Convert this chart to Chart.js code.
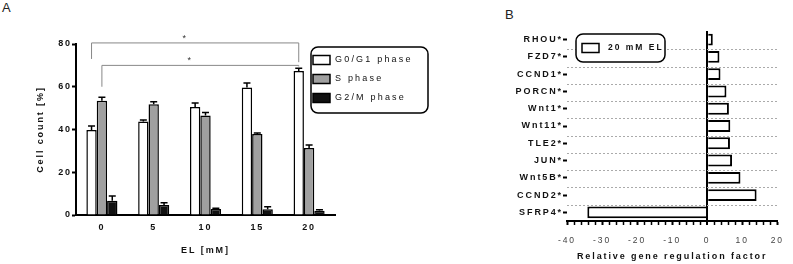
<!DOCTYPE html>
<html>
<head>
<meta charset="utf-8">
<script src="https://cdn.jsdelivr.net/npm/chart.js@4"></script>
<style>
  body { margin: 0; background: #fff; }
  #wrap { position: relative; width: 793px; height: 264px; font-family: "Liberation Sans", Arial, sans-serif; }
  canvas { position: absolute; top: 0; }
  #chartA { left: 0; }
  #chartB { left: 480px; }
  .panel { position: absolute; font-size: 13px; color: #222; }
</style>
</head>
<body>
<div id="wrap">
  <div class="panel" style="left:2px;top:0px">A</div>
  <div class="panel" style="left:505px;top:7px">B</div>
  <canvas id="chartA" width="440" height="264" style="width:440px;height:264px"></canvas>
  <canvas id="chartB" width="313" height="264" style="width:313px;height:264px"></canvas>
</div>
<script>
// panel A - cell cycle distribution
const doses = ['0', '5', '10', '15', '20'];
const phaseNames = ['G0/G1 phase', 'S phase', 'G2/M phase'];
const g0g1 = [39.8, 43.7, 50.5, 59.7, 67.4];
const g0g1Err = [1.8, 0.7, 1.9, 2.0, 1.2];
const sPhase = [53.5, 51.8, 46.5, 37.9, 31.3];
const sPhaseErr = [1.6, 1.2, 1.4, 0.5, 1.5];
const g2m = [6.7, 4.7, 2.8, 2.7, 2.0];
const g2mErr = [2.2, 1.0, 0.3, 1.2, 0.4];
const cellTicks = [0, 20, 40, 60, 80];

// significance brackets: [category, dataset] ends, height of bar and of both drops
const brackets = [
  { from: [0, 0], to: [4, 0], top: 80.5, ends: [73, 71.5] },
  { from: [0, 1], to: [4, 0], top: 70, ends: [60, 69.5] }
];

// panel B - gene regulation at 20 mM EL
const genes = ['RHOU*', 'FZD7*', 'CCND1*', 'PORCN*', 'Wnt1*', 'Wnt11*', 'TLE2*', 'JUN*', 'Wnt5B*', 'CCND2*', 'SFRP4*'];
const regulation = [1.6, 3.5, 3.8, 5.5, 6.2, 6.6, 6.5, 7.1, 9.5, 14.1, -34.2];
const regTicks = [-40, -30, -20, -10, 0, 10, 20];

const FONT = '"Liberation Sans", Arial, sans-serif';

// chart.js has no letter spacing option, so set it on the context
const spacing = {
  id: 'spacing',
  beforeDraw(chart, args, opts) { chart.ctx.letterSpacing = opts.value; }
};

const errorBars = {
  id: 'errorBars',
  afterDatasetsDraw(chart) {
    const ctx = chart.ctx;
    const y = chart.scales.y;
    ctx.save();
    ctx.strokeStyle = '#000';
    ctx.lineWidth = 1.5;
    chart.data.datasets.forEach((ds, i) => {
      chart.getDatasetMeta(i).data.forEach((bar, j) => {
        const top = y.getPixelForValue(ds.data[j] + ds.errors[j]);
        ctx.beginPath();
        ctx.moveTo(bar.x, bar.y);
        ctx.lineTo(bar.x, top);
        ctx.moveTo(bar.x - 3.5, top);
        ctx.lineTo(bar.x + 3.5, top);
        ctx.stroke();
      });
    });
    ctx.restore();
  }
};

const sigLines = {
  id: 'sigLines',
  afterDatasetsDraw(chart) {
    const ctx = chart.ctx;
    const y = chart.scales.y;
    ctx.save();
    ctx.strokeStyle = '#888';
    ctx.lineWidth = 1;
    ctx.fillStyle = '#333';
    ctx.font = '9px ' + FONT;
    ctx.textAlign = 'center';
    brackets.forEach(b => {
      const x1 = chart.getDatasetMeta(b.from[1]).data[b.from[0]].x;
      const x2 = chart.getDatasetMeta(b.to[1]).data[b.to[0]].x;
      const yt = y.getPixelForValue(b.top);
      ctx.beginPath();
      ctx.moveTo(x1, y.getPixelForValue(b.ends[0]));
      ctx.lineTo(x1, yt);
      ctx.lineTo(x2, yt);
      ctx.lineTo(x2, y.getPixelForValue(b.ends[1]));
      ctx.stroke();
      ctx.fillText('*', (x1 + x2) / 2 - 10, yt - 2);
    });
    ctx.restore();
  }
};

const boxLegend = {
  id: 'boxLegend',
  afterDraw(chart, args, o) {
    const ctx = chart.ctx;
    ctx.save();
    ctx.fillStyle = '#fff';
    ctx.strokeStyle = '#000';
    ctx.lineWidth = 1.5;
    ctx.beginPath();
    ctx.roundRect(o.x, o.y, o.w, o.h, 7);
    ctx.fill();
    ctx.stroke();
    ctx.font = o.font;
    ctx.letterSpacing = o.spacing;
    ctx.textBaseline = 'middle';
    ctx.textAlign = 'left';
    chart.data.datasets.forEach((ds, i) => {
      const yy = o.y + o.first + i * o.step;
      ctx.fillStyle = ds.backgroundColor;
      ctx.fillRect(o.x + o.sx, yy - 4.5, 17, 9);
      ctx.lineWidth = 1.5;
      ctx.strokeRect(o.x + o.sx, yy - 4.5, 17, 9);
      ctx.fillStyle = '#111';
      ctx.fillText(ds.label, o.x + o.tx, yy);
    });
    ctx.restore();
  }
};

const dottedRows = {
  id: 'dottedRows',
  beforeDatasetsDraw(chart) {
    const ctx = chart.ctx;
    const y = chart.scales.y;
    const area = chart.chartArea;
    ctx.save();
    ctx.strokeStyle = '#aaa';
    ctx.lineWidth = 1;
    ctx.setLineDash([2, 2]);
    for (let i = 1; i < genes.length; i++) {
      const yy = Math.round((y.getPixelForTick(i - 1) + y.getPixelForTick(i)) / 2) + 1.5;
      ctx.beginPath();
      ctx.moveTo(area.left, yy);
      ctx.lineTo(area.right, yy);
      ctx.stroke();
    }
    ctx.restore();
  }
};

new Chart(document.getElementById('chartA'), {
  type: 'bar',
  data: {
    labels: doses,
    datasets: [
      { label: phaseNames[0], data: g0g1, errors: g0g1Err, backgroundColor: '#ffffff' },
      { label: phaseNames[1], data: sPhase, errors: sPhaseErr, backgroundColor: '#a0a0a0' },
      { label: phaseNames[2], data: g2m, errors: g2mErr, backgroundColor: '#111111' }
    ]
  },
  options: {
    responsive: false,
    animation: false,
    layout: { padding: { left: 0, right: 105, top: 44, bottom: 0 } },
    datasets: { bar: { borderColor: '#000', borderWidth: 1.5, categoryPercentage: 0.6, barPercentage: 1 } },
    scales: {
      x: {
        afterFit(s) { s.height = 49; },
        grid: { drawOnChartArea: false, drawTicks: false },
        border: { color: '#000', width: 2 },
        ticks: { padding: 7, color: '#111', font: { family: FONT, size: 9, weight: 'bold' } },
        title: { display: true, text: 'EL [mM]', color: '#111', padding: { bottom: 8 }, font: { family: FONT, size: 9, weight: 'bold' } }
      },
      y: {
        min: 0, max: 80,
        afterFit(s) { s.width = 76; },
        afterBuildTicks(s) { s.ticks = cellTicks.map(v => ({ value: v })); },
        grid: { drawOnChartArea: false, tickLength: 4, tickWidth: 2, tickColor: '#000' },
        border: { color: '#000', width: 2 },
        ticks: { padding: 0, color: '#111', font: { family: FONT, size: 9, weight: 'bold' } },
        title: { display: true, text: 'Cell count [%]', color: '#111', padding: { top: 35 }, font: { family: FONT, size: 9, weight: 'bold' } }
      }
    },
    plugins: {
      legend: { display: false },
      tooltip: { enabled: false },
      spacing: { value: '1.9px' },
      boxLegend: { x: 311, y: 47, w: 117, h: 66, first: 13, step: 19, sx: 2, tx: 24, font: '9px ' + FONT, spacing: '2.2px' }
    }
  },
  plugins: [spacing, errorBars, sigLines, boxLegend]
});

new Chart(document.getElementById('chartB'), {
  type: 'bar',
  data: {
    labels: genes,
    datasets: [{ label: '20 mM EL', data: regulation, backgroundColor: '#ffffff', borderColor: '#000', borderWidth: 2, categoryPercentage: 0.8, barPercentage: 0.86 }]
  },
  options: {
    indexAxis: 'y',
    responsive: false,
    animation: false,
    layout: { padding: { left: 0, right: 6, top: 31, bottom: 0 } },
    scales: {
      x: {
        min: -40, max: 20,
        afterFit(s) { s.height = 43; },
        ticks: {
          stepSize: 2, autoSkip: false, maxRotation: 0, padding: 11, color: '#444',
          font: { family: FONT, size: 8.5 },
          callback: v => regTicks.includes(v) ? String(v) : ''
        },
        grid: {
          color: c => c.tick && c.tick.value === 0 ? '#000' : 'rgba(0,0,0,0)',
          lineWidth: c => c.tick && c.tick.value === 0 ? 2 : 1,
          tickColor: '#000',
          tickWidth: c => c.tick && c.tick.value % 10 === 0 ? 2 : 1.5,
          tickLength: 4
        },
        border: { color: '#000', width: 2 },
        title: { display: true, text: 'Relative gene regulation factor', color: '#111', padding: { bottom: 2 }, font: { family: FONT, size: 9, weight: 'bold' } }
      },
      y: {
        afterFit(s) { s.width = 87; },
        grid: { offset: false, drawOnChartArea: false, tickLength: 4, tickWidth: 2, tickColor: '#000' },
        border: { display: false },
        ticks: { padding: 0, color: '#111', font: { family: FONT, size: 9, weight: 'bold' } }
      }
    },
    plugins: {
      legend: { display: false },
      tooltip: { enabled: false },
      spacing: { value: '1.9px' },
      boxLegend: { x: 96, y: 34, w: 89, h: 28, first: 14, step: 0, sx: 6, tx: 32, font: 'bold 8.5px ' + FONT, spacing: '2px' }
    }
  },
  plugins: [spacing, dottedRows, boxLegend]
});
</script>
</body>
</html>
